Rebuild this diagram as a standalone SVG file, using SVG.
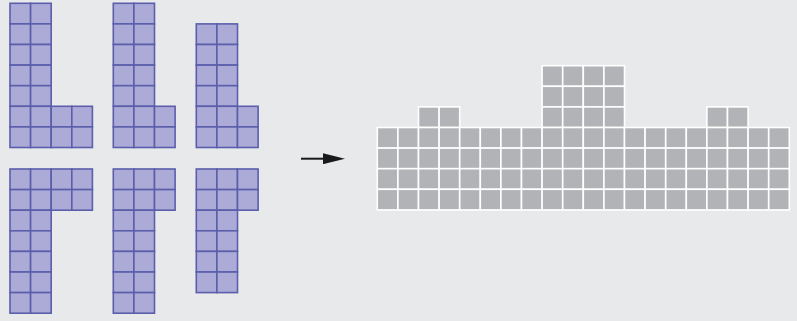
<svg xmlns="http://www.w3.org/2000/svg" width="797" height="321" viewBox="0 0 797 321">
<style>
.p rect{fill:#acabd7;stroke:#5a5eab;stroke-width:1.6;width:20.6px;height:20.6px}
.g rect{fill:#b2b3b6;stroke:#ffffff;stroke-width:1.6;width:20.6px;height:20.6px}
</style>
<defs>
<marker id="ah" markerWidth="22" markerHeight="11" refX="0" refY="5.5" orient="auto" markerUnits="userSpaceOnUse">
<path d="M0,0 L22,5.5 L0,11 Z" fill="#1a1a1a"/>
</marker>
</defs>
<rect width="797" height="321" fill="#e8e9eb"/>
<g id="piece1" class="p" transform="translate(10,3.3)">
<rect x="0" y="0"/><rect x="20.6" y="0"/>
<rect x="0" y="20.6"/><rect x="20.6" y="20.6"/>
<rect x="0" y="41.2"/><rect x="20.6" y="41.2"/>
<rect x="0" y="61.8"/><rect x="20.6" y="61.8"/>
<rect x="0" y="82.4"/><rect x="20.6" y="82.4"/>
<rect x="0" y="103"/><rect x="20.6" y="103"/><rect x="41.2" y="103"/><rect x="61.8" y="103"/>
<rect x="0" y="123.6"/><rect x="20.6" y="123.6"/><rect x="41.2" y="123.6"/><rect x="61.8" y="123.6"/>
</g>
<g id="piece2" class="p" transform="translate(113.3,3.3)">
<rect x="0" y="0"/><rect x="20.6" y="0"/>
<rect x="0" y="20.6"/><rect x="20.6" y="20.6"/>
<rect x="0" y="41.2"/><rect x="20.6" y="41.2"/>
<rect x="0" y="61.8"/><rect x="20.6" y="61.8"/>
<rect x="0" y="82.4"/><rect x="20.6" y="82.4"/>
<rect x="0" y="103"/><rect x="20.6" y="103"/><rect x="41.2" y="103"/>
<rect x="0" y="123.6"/><rect x="20.6" y="123.6"/><rect x="41.2" y="123.6"/>
</g>
<g id="piece3" class="p" transform="translate(196.3,23.9)">
<rect x="0" y="0"/><rect x="20.6" y="0"/>
<rect x="0" y="20.6"/><rect x="20.6" y="20.6"/>
<rect x="0" y="41.2"/><rect x="20.6" y="41.2"/>
<rect x="0" y="61.8"/><rect x="20.6" y="61.8"/>
<rect x="0" y="82.4"/><rect x="20.6" y="82.4"/><rect x="41.2" y="82.4"/>
<rect x="0" y="103"/><rect x="20.6" y="103"/><rect x="41.2" y="103"/>
</g>
<g id="piece4" class="p" transform="translate(10,169)">
<rect x="0" y="0"/><rect x="20.6" y="0"/><rect x="41.2" y="0"/><rect x="61.8" y="0"/>
<rect x="0" y="20.6"/><rect x="20.6" y="20.6"/><rect x="41.2" y="20.6"/><rect x="61.8" y="20.6"/>
<rect x="0" y="41.2"/><rect x="20.6" y="41.2"/>
<rect x="0" y="61.8"/><rect x="20.6" y="61.8"/>
<rect x="0" y="82.4"/><rect x="20.6" y="82.4"/>
<rect x="0" y="103"/><rect x="20.6" y="103"/>
<rect x="0" y="123.6"/><rect x="20.6" y="123.6"/>
</g>
<g id="piece5" class="p" transform="translate(113.3,169)">
<rect x="0" y="0"/><rect x="20.6" y="0"/><rect x="41.2" y="0"/>
<rect x="0" y="20.6"/><rect x="20.6" y="20.6"/><rect x="41.2" y="20.6"/>
<rect x="0" y="41.2"/><rect x="20.6" y="41.2"/>
<rect x="0" y="61.8"/><rect x="20.6" y="61.8"/>
<rect x="0" y="82.4"/><rect x="20.6" y="82.4"/>
<rect x="0" y="103"/><rect x="20.6" y="103"/>
<rect x="0" y="123.6"/><rect x="20.6" y="123.6"/>
</g>
<g id="piece6" class="p" transform="translate(196.3,169)">
<rect x="0" y="0"/><rect x="20.6" y="0"/><rect x="41.2" y="0"/>
<rect x="0" y="20.6"/><rect x="20.6" y="20.6"/><rect x="41.2" y="20.6"/>
<rect x="0" y="41.2"/><rect x="20.6" y="41.2"/>
<rect x="0" y="61.8"/><rect x="20.6" y="61.8"/>
<rect x="0" y="82.4"/><rect x="20.6" y="82.4"/>
<rect x="0" y="103"/><rect x="20.6" y="103"/>
</g>
<g id="connectors">
<line x1="301" y1="158.7" x2="323" y2="158.7" stroke="#1a1a1a" stroke-width="2" marker-end="url(#ah)"/>
</g>
<g id="result" class="g" transform="translate(377.3,65.7)">
<rect x="164.8" y="0"/><rect x="185.4" y="0"/><rect x="206" y="0"/><rect x="226.6" y="0"/>
<rect x="164.8" y="20.6"/><rect x="185.4" y="20.6"/><rect x="206" y="20.6"/><rect x="226.6" y="20.6"/>
<rect x="41.2" y="41.2"/><rect x="61.8" y="41.2"/>
<rect x="164.8" y="41.2"/><rect x="185.4" y="41.2"/><rect x="206" y="41.2"/><rect x="226.6" y="41.2"/>
<rect x="329.6" y="41.2"/><rect x="350.2" y="41.2"/>
<rect x="0" y="61.8"/><rect x="20.6" y="61.8"/><rect x="41.2" y="61.8"/><rect x="61.8" y="61.8"/><rect x="82.4" y="61.8"/><rect x="103" y="61.8"/><rect x="123.6" y="61.8"/><rect x="144.2" y="61.8"/><rect x="164.8" y="61.8"/><rect x="185.4" y="61.8"/><rect x="206" y="61.8"/><rect x="226.6" y="61.8"/><rect x="247.2" y="61.8"/><rect x="267.8" y="61.8"/><rect x="288.4" y="61.8"/><rect x="309" y="61.8"/><rect x="329.6" y="61.8"/><rect x="350.2" y="61.8"/><rect x="370.8" y="61.8"/><rect x="391.4" y="61.8"/>
<rect x="0" y="82.4"/><rect x="20.6" y="82.4"/><rect x="41.2" y="82.4"/><rect x="61.8" y="82.4"/><rect x="82.4" y="82.4"/><rect x="103" y="82.4"/><rect x="123.6" y="82.4"/><rect x="144.2" y="82.4"/><rect x="164.8" y="82.4"/><rect x="185.4" y="82.4"/><rect x="206" y="82.4"/><rect x="226.6" y="82.4"/><rect x="247.2" y="82.4"/><rect x="267.8" y="82.4"/><rect x="288.4" y="82.4"/><rect x="309" y="82.4"/><rect x="329.6" y="82.4"/><rect x="350.2" y="82.4"/><rect x="370.8" y="82.4"/><rect x="391.4" y="82.4"/>
<rect x="0" y="103"/><rect x="20.6" y="103"/><rect x="41.2" y="103"/><rect x="61.8" y="103"/><rect x="82.4" y="103"/><rect x="103" y="103"/><rect x="123.6" y="103"/><rect x="144.2" y="103"/><rect x="164.8" y="103"/><rect x="185.4" y="103"/><rect x="206" y="103"/><rect x="226.6" y="103"/><rect x="247.2" y="103"/><rect x="267.8" y="103"/><rect x="288.4" y="103"/><rect x="309" y="103"/><rect x="329.6" y="103"/><rect x="350.2" y="103"/><rect x="370.8" y="103"/><rect x="391.4" y="103"/>
<rect x="0" y="123.6"/><rect x="20.6" y="123.6"/><rect x="41.2" y="123.6"/><rect x="61.8" y="123.6"/><rect x="82.4" y="123.6"/><rect x="103" y="123.6"/><rect x="123.6" y="123.6"/><rect x="144.2" y="123.6"/><rect x="164.8" y="123.6"/><rect x="185.4" y="123.6"/><rect x="206" y="123.6"/><rect x="226.6" y="123.6"/><rect x="247.2" y="123.6"/><rect x="267.8" y="123.6"/><rect x="288.4" y="123.6"/><rect x="309" y="123.6"/><rect x="329.6" y="123.6"/><rect x="350.2" y="123.6"/><rect x="370.8" y="123.6"/><rect x="391.4" y="123.6"/>
</g>
</svg>
